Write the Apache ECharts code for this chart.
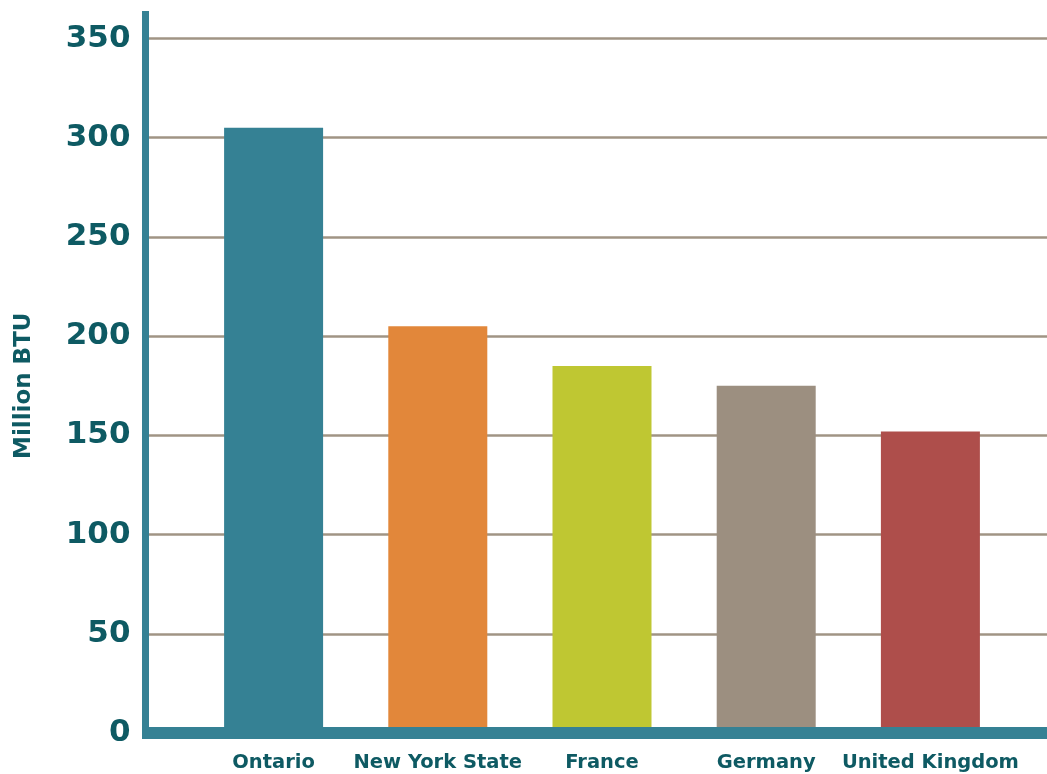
<!DOCTYPE html>
<html><head><meta charset="utf-8">
<script src="https://cdn.jsdelivr.net/npm/echarts@6/dist/echarts.min.js"></script>
<style>html,body{margin:0;padding:0;background:#fff}#c{width:1047px;height:774px}</style>
</head><body><div id="c"></div>
<script>
const categories = ['Ontario', 'New York State', 'France', 'Germany', 'United Kingdom'];
const values = [305, 205, 185, 175, 152];
const barColors = ['#358194', '#e2873a', '#bfc732', '#9c8f80', '#ae4e4b'];
const yTicks = [0, 50, 100, 150, 200, 250, 300, 350];

const teal = '#358194';
const labelColor = '#0e5a63';
const font = 'DejaVu Sans';

const chart = echarts.init(document.getElementById('c'));
chart.setOption({
  animation: false,
  grid: [
    {left: 145.5, right: 0, top: 11, bottom: 35},
    {left: 145.5, right: 0, top: 38.5, bottom: 41},
    {left: 191.5, right: 34.5, top: 38.5, bottom: 41}
  ],
  xAxis: [
    {gridIndex: 0, type: 'value', show: false},
    {gridIndex: 1, type: 'value', z: 10, axisLine: {show: true, onZero: false, lineStyle: {color: teal, width: 12, cap: 'butt'}},
      axisTick: {show: false}, axisLabel: {show: false}, splitLine: {show: false}},
    {gridIndex: 2, type: 'category', data: categories, axisLine: {show: false}, axisTick: {show: false},
      axisLabel: {interval: 0, margin: 20, color: labelColor, fontFamily: font, fontWeight: 'bold', fontSize: 19.5}}
  ],
  yAxis: [
    {gridIndex: 0, type: 'value', z: 10, axisLine: {show: true, lineStyle: {color: teal, width: 7, cap: 'butt'}},
      axisTick: {show: false}, axisLabel: {show: false}, splitLine: {show: false}},
    {gridIndex: 1, type: 'value', min: yTicks[0], max: yTicks[yTicks.length - 1], interval: 50,
      axisLine: {show: false}, axisTick: {show: false},
      axisLabel: {margin: 15, color: labelColor, fontFamily: font, fontWeight: 'bold', fontSize: 31},
      splitLine: {lineStyle: {color: '#a09484', width: 2.5}},
      name: 'Million BTU', nameLocation: 'middle', nameGap: 110, nameRotate: 90,
      nameTextStyle: {color: labelColor, fontFamily: font, fontWeight: 'bold', fontSize: 23}},
    {gridIndex: 2, type: 'value', min: 0, max: 350, show: false}
  ],
  series: [{
    type: 'bar', xAxisIndex: 2, yAxisIndex: 2, barWidth: 99,
    data: values.map((v, i) => ({value: v, itemStyle: {color: barColors[i]}}))
  }]
});
</script></body></html>
